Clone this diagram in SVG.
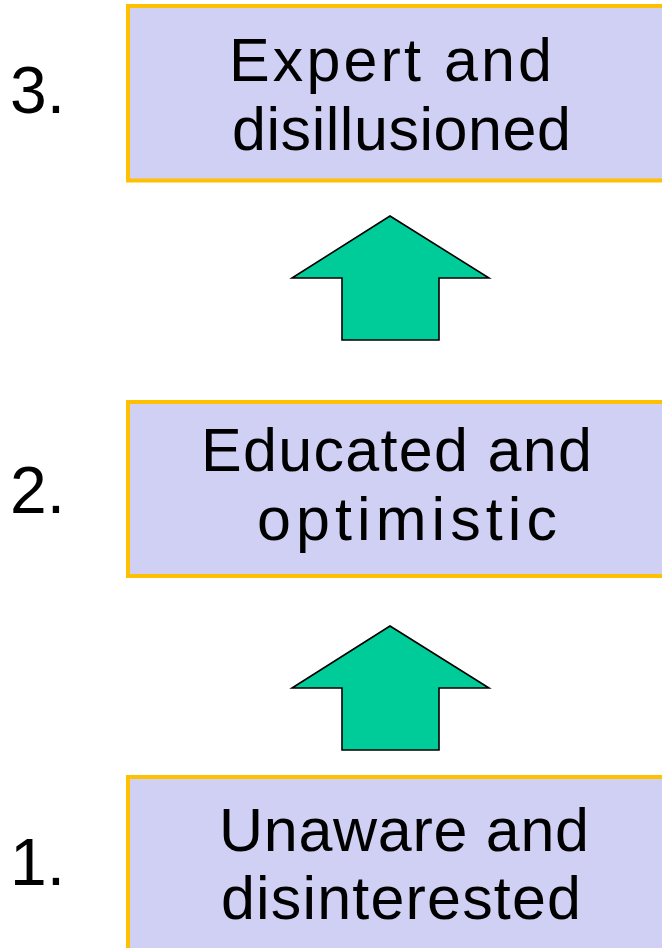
<svg xmlns="http://www.w3.org/2000/svg" width="662" height="948" viewBox="0 0 662 948">
  <style>
    .box { fill: #D0D0F4; stroke: #FFC000; stroke-width: 4; }
    .txt { font-family: "Liberation Sans", Arial, sans-serif; font-size: 61px; fill: #000000; }
    .num { font-family: "Liberation Sans", Arial, sans-serif; font-size: 66px; fill: #000000; }
    .arrow { fill: #00CC99; stroke: #000000; stroke-width: 1.6; stroke-linejoin: miter; }
  </style>
  <rect x="0" y="0" width="662" height="948" fill="#FFFFFF"/>
  <g id="node3">
    <rect class="box" x="128" y="6" width="560" height="174.5"/>
    <text class="txt"><tspan x="229" y="80.5" textLength="323" lengthAdjust="spacing">Expert and</tspan><tspan x="232" y="149.5" textLength="339" lengthAdjust="spacing">disillusioned</tspan></text>
    <text class="num" x="10" y="113">3.</text>
  </g>
  <g id="node2">
    <rect class="box" x="128" y="402" width="560" height="174"/>
    <text class="txt"><tspan x="201" y="470.5" textLength="391" lengthAdjust="spacing">Educated and</tspan><tspan x="257" y="539.5" textLength="300" lengthAdjust="spacing">optimistic</tspan></text>
    <text class="num" x="10" y="513.3">2.</text>
  </g>
  <g id="node1">
    <rect class="box" x="128" y="777" width="560" height="200"/>
    <text class="txt"><tspan x="219" y="850.5" textLength="370" lengthAdjust="spacing">Unaware and</tspan><tspan x="221" y="919" textLength="360" lengthAdjust="spacing">disinterested</tspan></text>
    <text class="num" x="10" y="885">1.</text>
  </g>
  <g id="connectors">
    <polygon class="arrow" points="390,216 489,278 439,278 439,340 342,340 342,278 292,278"/>
    <polygon class="arrow" points="390,626 489,688 439,688 439,750 342,750 342,688 292,688"/>
  </g>
</svg>
